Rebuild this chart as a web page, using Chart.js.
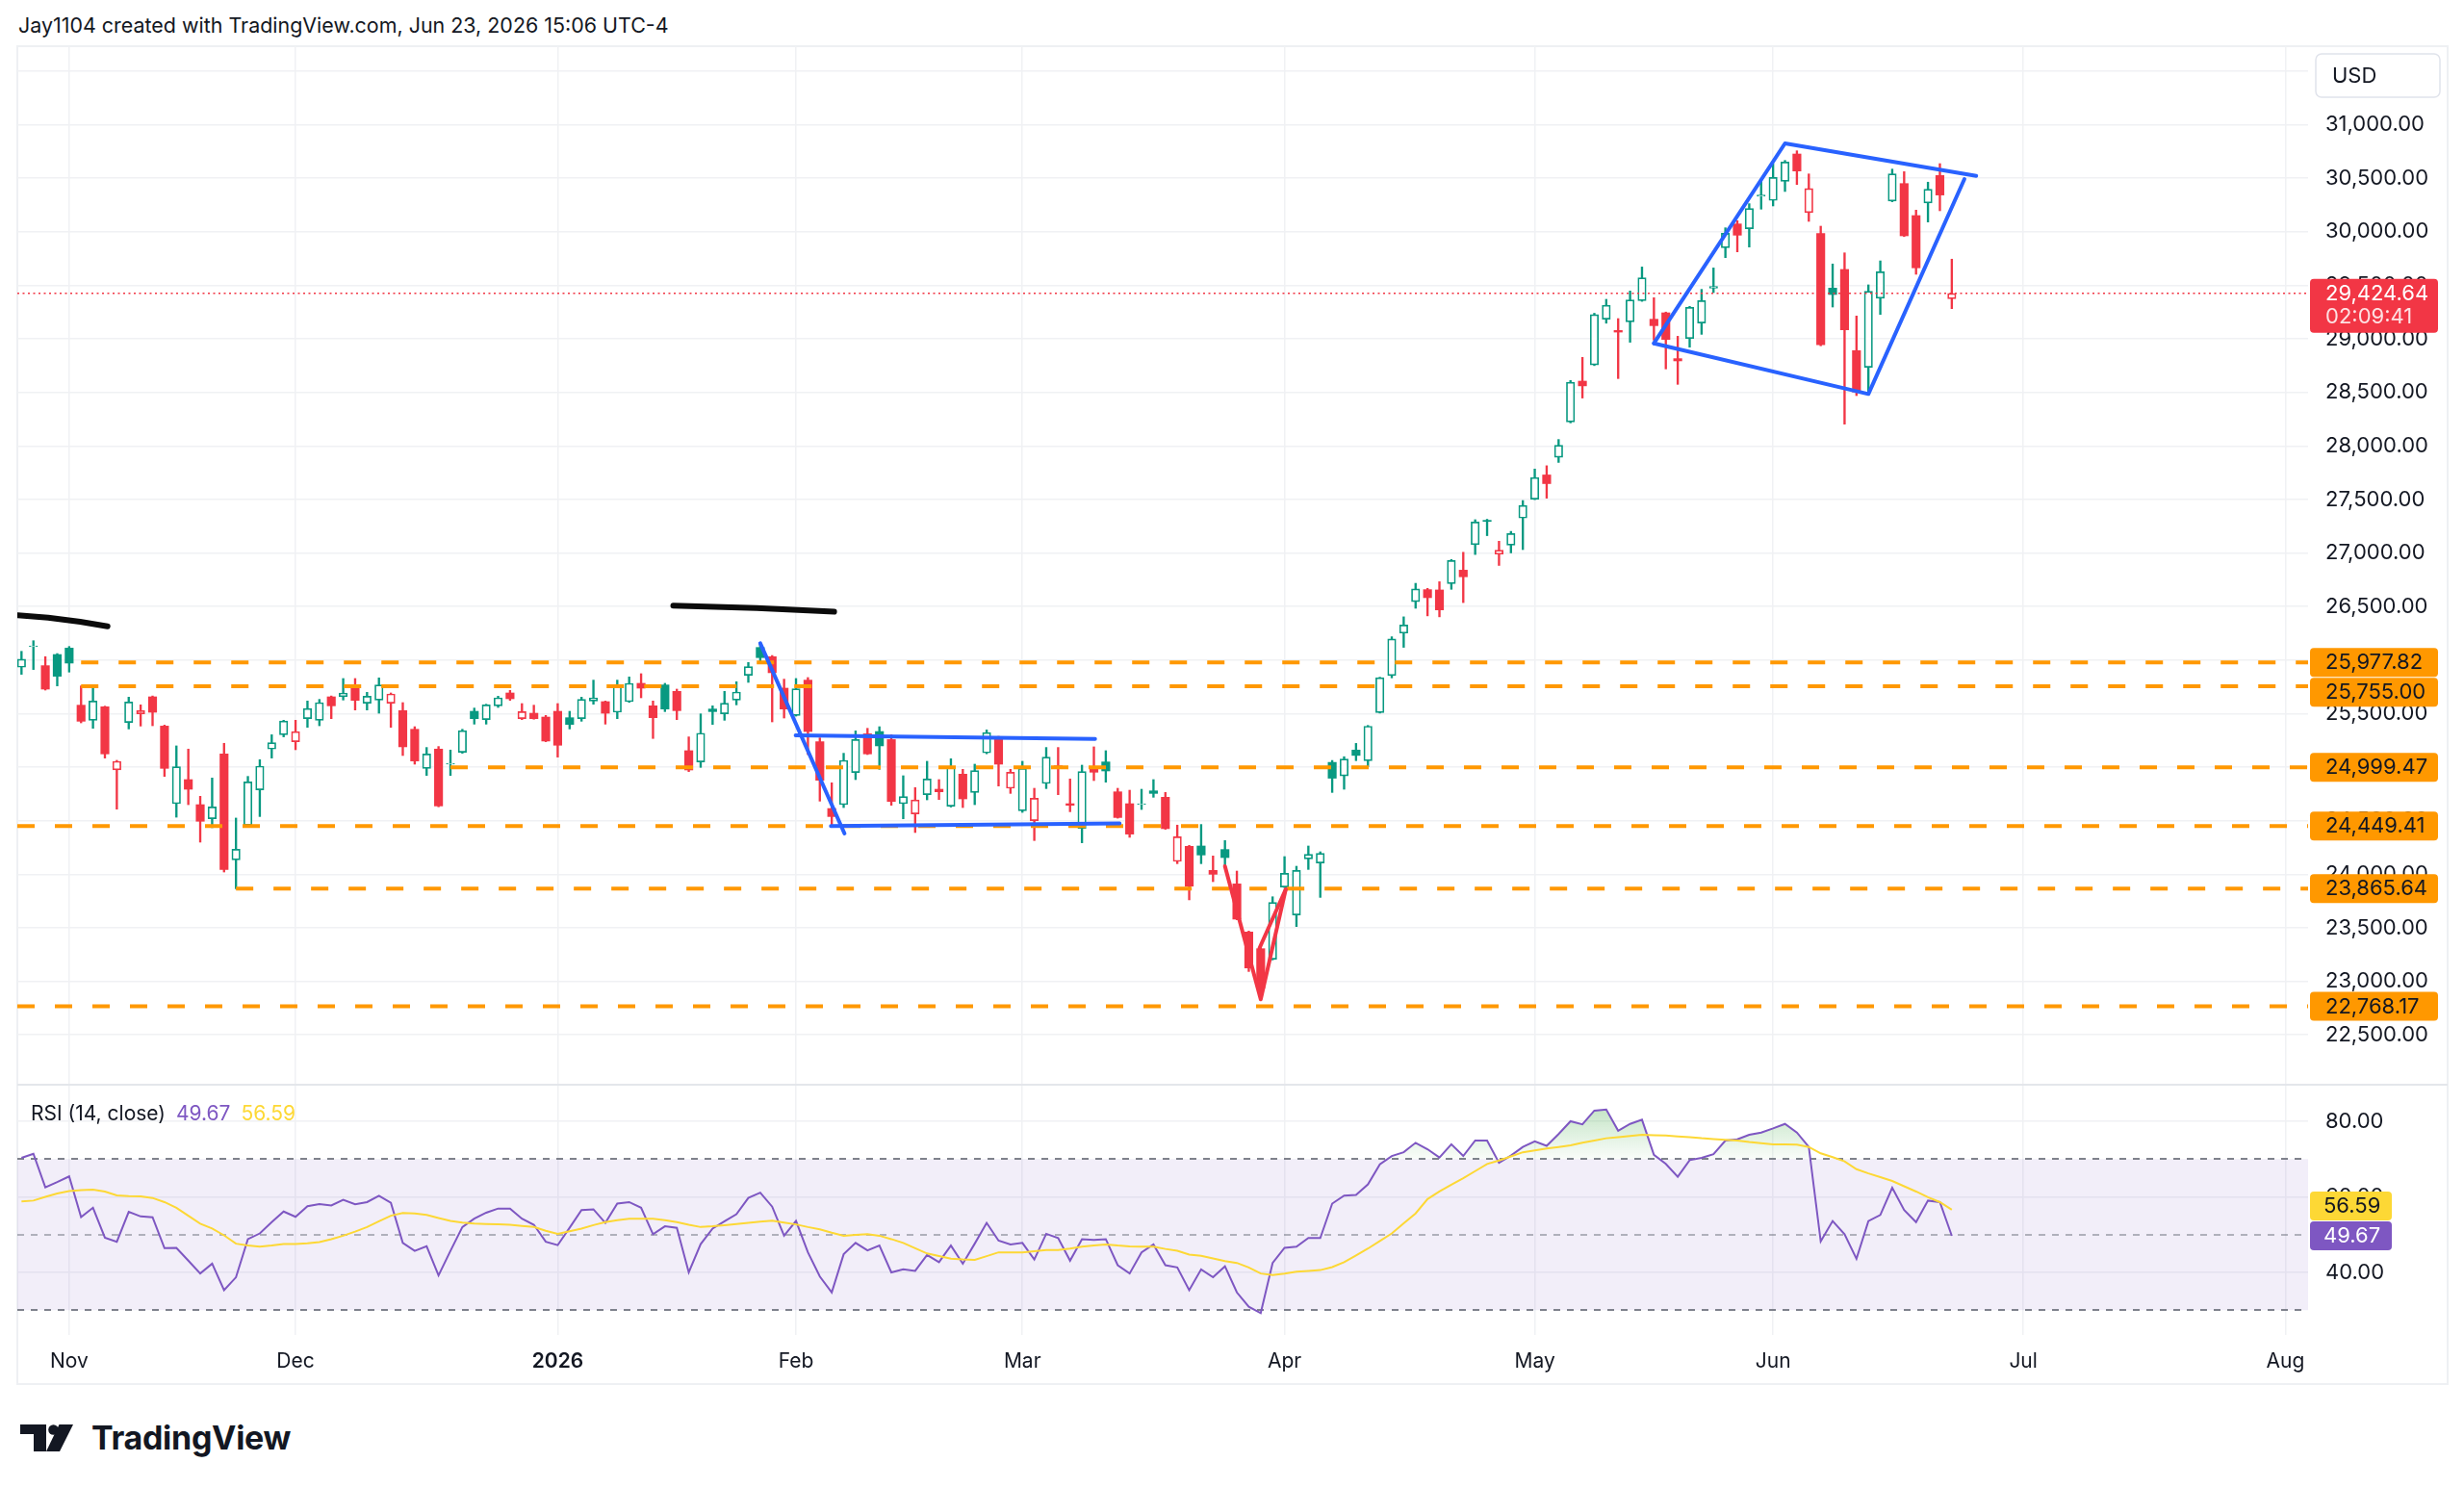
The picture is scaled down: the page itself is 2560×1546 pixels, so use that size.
<!DOCTYPE html>
<html>
<head>
<meta charset="utf-8">
<title>Nasdaq chart</title>
<script src="https://cdn.jsdelivr.net/npm/chart.js@4.4.1/dist/chart.umd.min.js"></script>
<style>
  html, body { margin:0; padding:0; background:#ffffff; }
  body { width:2560px; height:1546px; position:relative; overflow:hidden; font-family: Inter, "Noto Sans", "DejaVu Sans", sans-serif; color:#131722; }
  #title { position:absolute; left:19px; top:16px; font-size:21.45px; line-height:1; white-space:nowrap; }
  #frame { position:absolute; left:17px; top:47px; width:2527px; height:1392px; box-sizing:border-box; border:2px solid #eef0f3; }
  canvas { position:absolute; left:18px; }
  #sep { position:absolute; left:18px; top:1126px; width:2525px; height:2px; background:#e4e6eb; }
  #rsiLegend { position:absolute; left:32px; top:1146px; font-size:21px; line-height:1; white-space:nowrap; }
  #rsiLegend span { margin-right:11px; }
  #logo { position:absolute; left:21px; top:1477px; display:flex; align-items:center; }
  #logo .word { font-size:34px; font-weight:700; margin-left:18px; letter-spacing:-0.3px; line-height:1; color:#131722; }
</style>
</head>
<body>
<div id="title">Jay1104 created with TradingView.com, Jun 23, 2026 15:06 UTC-4</div>
<div id="frame"></div>
<canvas id="price" width="2525" height="1079" style="top:48px;width:2525px;height:1079px;"></canvas>
<canvas id="rsi" width="2525" height="311" style="top:1127px;width:2525px;height:311px;"></canvas>
<div id="sep"></div>
<div id="rsiLegend"><span id="rsiName">RSI (14, close)</span><span id="rsiVal" style="color:#7E57C2"></span><span id="maVal" style="color:#FDD835"></span></div>
<div id="logo">
  <svg width="56" height="28" viewBox="0 0 56 28"><path d="M0 0H27V28H14V10H0Z" fill="#131722"/><circle cx="34.5" cy="5.5" r="5.3" fill="#131722"/><path d="M40.5 0H55L41 28H27Z" fill="#131722"/></svg>
  <span class="word">TradingView</span>
</div>
<script>
// ---------------- DATA ----------------
// bar index 0 = Nov 3 2025 (trading days); first bar is Oct 28 2025
const firstIndex = -4;
const opens = [25933,26124,25948,26052,26112,
 25579,25438,25564,24974,25417,25498,25657,25384,24659,24884,
 24650,24519,25124,24135,24459,24788,25169,25303,25238,25453,
 25438,25657,25657,25753,25597,25627,25597,25528,25354,24989,
 25169,25028,25139,25522,25444,25573,25693,25453,25504,25468,
 25522,25462,25453,25618,25612,25513,25612,25783,25573,25768,
 25708,25154,25049,25543,25498,25627,25858,26118,26032,25738,
 25483,25813,25238,24614,24650,24950,25312,25333,25258,24659,
 24563,24743,24794,24635,24935,24764,25133,25273,24803,24593,
 24501,24848,25013,24659,24429,24998,25049,24770,24659,24650,
 24779,24719,24120,24261,24264,24036,24231,23910,23461,23305,
 23206,23880,23620,24144,24105,25045,24918,25160,25061,25510,
 25856,26252,26546,26658,26655,26714,26840,27079,27305,26989,
 27073,27326,27503,27729,27893,28224,28605,28757,29183,29078,
 29159,29357,29183,29243,28815,29003,29147,29474,29851,30073,
 30028,30331,30292,30471,30726,30178,29983,29474,29648,28890,
 28734,29378,30286,30450,30151,30268,30525,29375];
const highs = [26082,26181,26032,26061,26127,
 25759,25744,25570,25064,25654,25582,25665,25393,25199,25169,
 24728,24899,25223,24525,24914,25070,25303,25438,25438,25618,
 25633,25665,25828,25828,25699,25834,25693,25603,25378,25184,
 25193,25160,25354,25552,25588,25663,25717,25594,25579,25483,
 25594,25522,25654,25813,25618,25813,25843,25873,25618,25783,
 25729,25283,25498,25573,25708,25798,25978,26163,26043,25822,
 25828,25837,25274,24854,25130,25339,25363,25378,25303,24920,
 24809,25055,24884,25079,24980,25028,25348,25288,24980,25055,
 24803,25184,25184,24890,25019,25190,25154,24803,24785,24794,
 24884,24764,24459,24270,24465,24171,24315,24030,23470,23315,
 23790,24165,24075,24264,24210,25063,25098,25222,25390,25840,
 26218,26404,26717,26670,26732,26939,27007,27311,27315,27110,
 27202,27490,27784,27815,28060,28611,28827,29239,29369,29189,
 29447,29671,29384,29250,29024,29303,29462,29662,30037,30103,
 30262,30471,30636,30666,30756,30540,30052,29699,29803,29213,
 29504,29728,30585,30561,30202,30463,30636,29744];
const lows = [25867,25912,25720,25759,25888,
 25414,25363,25085,24608,25357,25384,25387,24914,24533,24650,
 24300,24435,24021,23865,24450,24539,25085,25283,25163,25372,
 25387,25453,25627,25534,25534,25504,25372,25109,25028,24923,
 24630,24923,25130,25402,25402,25558,25624,25444,25448,25238,
 25094,25357,25429,25588,25402,25453,25605,25648,25268,25519,
 25444,24959,24998,25399,25438,25582,25792,25978,25423,25459,
 25477,25118,24683,24450,24623,24884,25118,24980,24644,24518,
 24390,24695,24698,24628,24623,24650,25125,24824,24755,24578,
 24315,24800,24743,24584,24294,24875,24860,24524,24345,24605,
 24719,24420,24099,23761,24099,23931,24081,23575,23092,22877,
 23200,23875,23512,24045,23784,24764,24794,25061,25005,25505,
 25834,26119,26484,26413,26404,26661,26537,26986,27162,26884,
 27001,27032,27498,27512,27846,28215,28447,28750,29146,28629,
 28968,29350,28988,28719,28575,28922,29042,29432,29758,29812,
 29857,30211,30241,30376,30441,30097,28935,29297,28203,28470,
 28509,29228,30280,29955,29603,30091,30196,29282];
const closes = [26008,26133,25729,25849,25972,
 25429,25618,25124,25055,25609,25528,25513,24989,25004,24794,
 24495,24629,24045,24234,24863,25010,25229,25432,25333,25549,
 25603,25573,25693,25624,25663,25768,25684,25190,25058,25124,
 24638,25037,25342,25453,25582,25648,25639,25519,25453,25244,
 25205,25399,25633,25648,25504,25763,25783,25738,25462,25543,
 25528,24974,25318,25519,25597,25702,25939,26023,25882,25543,
 25732,25333,24878,24539,25064,25258,25124,25199,24680,24725,
 24695,24890,24770,25004,24704,24968,25324,25028,24953,24989,
 24710,25094,24989,24644,24959,24953,24965,24530,24375,24659,
 24755,24426,24351,23889,24180,24000,24156,23581,23125,22937,
 23737,24009,24036,24186,24195,24897,25076,25110,25383,25835,
 26197,26327,26664,26583,26469,26930,26778,27290,27295,27026,
 27181,27444,27704,27648,28007,28595,28561,29226,29314,29063,
 29363,29570,29123,28994,28794,29294,29357,29489,29986,29968,
 30217,30343,30507,30651,30567,30403,28944,29414,29084,28503,
 29444,29627,30540,29962,29663,30397,30343,29424.64];

const rsiValues = [70.3,71.4,62.5,63.9,65.4,
 54.6,57.1,49.2,48.1,56.0,54.8,54.6,46.4,46.5,43.1,
 39.7,42.3,35.3,38.7,48.8,50.3,53.3,56.1,54.7,57.5,
 58.1,57.7,59.2,58.0,58.6,60.3,58.4,47.8,45.7,46.9,
 39.2,45.7,52.0,54.2,55.8,56.9,56.9,54.2,52.6,48.1,
 47.2,51.8,56.5,56.7,53.1,58.2,58.6,57.1,50.1,52.2,
 51.8,40.0,47.5,51.6,53.5,55.4,59.7,61.1,57.4,49.7,
 53.6,45.3,38.9,34.7,44.8,47.8,45.8,47.1,40.0,40.8,
 40.4,44.6,42.7,47.1,42.3,47.6,53.1,48.4,47.4,47.8,
 43.4,50.2,49.1,43.1,48.8,48.6,48.8,41.9,39.7,45.3,
 47.4,41.9,41.3,35.3,40.8,38.7,41.6,34.7,30.9,29.2,
 42.5,46.5,46.8,49.1,49.1,58.2,60.3,60.5,63.3,68.6,
 70.8,71.8,74.3,72.6,70.4,73.9,70.8,74.9,74.9,69.0,
 70.9,73.2,74.7,73.5,76.6,80.0,79.2,82.8,83.1,77.5,
 79.3,80.4,71.1,68.7,65.3,69.7,70.3,71.3,74.9,75.2,
 76.4,77.0,78.1,79.3,77.0,73.2,48.2,53.6,50.1,43.6,
 53.6,55.2,62.4,56.5,53.3,59.0,58.6,49.67];
const rsiMA = [58.8,59.0,60.0,60.9,61.5,
 61.8,61.9,61.4,60.4,60.2,60.1,59.7,58.6,57.1,55.0,
 52.9,51.6,49.8,47.6,47.1,46.8,47.1,47.5,47.5,47.7,
 48.0,48.8,49.7,50.8,52.0,53.5,55.0,55.7,55.6,55.2,
 54.4,53.6,53.2,52.9,52.8,52.7,52.6,52.3,52.0,51.0,
 50.2,50.9,51.6,52.5,53.3,53.8,54.2,54.2,54.2,53.8,
 53.3,52.6,52.0,52.2,52.5,52.8,53.1,53.4,53.7,53.2,
 52.7,52.0,51.4,50.5,49.7,49.9,50.1,49.7,48.8,47.8,
 46.4,45.0,44.3,43.6,43.4,43.3,44.3,45.3,45.3,45.3,
 45.6,45.9,45.9,46.3,46.8,47.1,47.4,47.1,46.9,46.8,
 46.8,46.2,45.7,44.7,44.4,43.7,43.0,42.5,41.3,39.7,
 39.3,39.7,40.2,40.4,40.6,41.4,42.7,44.5,46.3,48.3,
 50.3,53.0,55.6,59.4,61.4,63.2,64.9,66.8,68.7,69.6,
 70.7,71.8,72.3,72.8,73.2,73.6,74.3,74.9,75.5,75.8,
 76.1,76.4,76.3,76.2,76.0,75.8,75.5,75.3,75.1,74.9,
 74.5,74.2,73.9,73.9,73.8,73.2,71.5,70.5,69.4,67.3,
 66.2,65.2,64.2,62.8,61.4,59.9,58.6,56.59];

const monthIdx = [0, 19, 41, 61, 80, 102, 123, 143, 164, 186];
const monthLabels = ['Nov', 'Dec', '2026', 'Feb', 'Mar', 'Apr', 'May', 'Jun', 'Jul', 'Aug'];
const priceTicks = [22500,23000,23500,24000,24500,25000,25500,26000,26500,27000,27500,28000,28500,29000,29500,30000,30500,31000,31500];
const rsiTicks = [40, 60, 80];
const rsiBands = [70, 50, 30];

const levelValues = [25977.82, 25755.00, 24999.47, 24449.41, 23865.64, 22768.17];
const levelStarts = [1, 1, 32, -4.35, 14, -4.35];
const lastPrice = 29424.64;
const countdown = '02:09:41';
const currency = 'USD';

// hand-drawn annotations: [bar index, price]
const blackStroke1 = [[-4.3, 26418], [-1.76, 26397], [0.93, 26358], [3.22, 26316]];
const blackStroke2 = [[50.7, 26508], [57.7, 26487], [64.2, 26452]];
const blueDiagonal = [[58.0, 26157], [65.07, 24381]];
const blueRangeTop = [[60.97, 25297], [86.1, 25264]];
const blueRangeBottom = [[63.93, 24450], [88.16, 24474]];
const redV1 = [[97.0, 24075], [100.0, 22832], [102.1, 23859]];
const redV2 = [[99.9, 23311], [102.1, 23859]];
const rhombusUpper = [[133.0, 28958], [144.0, 30825], [160.05, 30522]];
const rhombusLower = [[133.0, 28958], [151.0, 28485], [159.06, 30492]];

// ---------------- STYLE / LAYOUT ----------------
const UP = '#089981', DOWN = '#F23645', LEVEL = '#FF9800', BLUE = '#2962FF', INK = '#131722';
const GRID = '#f0f1f4';
const X_MIN = -4.35, X_MAX = 187.9;
const P_MIN = 22034.8, P_MAX = 31732.7;
const R_MIN = 23.43, R_MAX = 89.67;
const AXIS_W = 145;
const FONT = 'Inter, "Noto Sans", sans-serif';
Chart.defaults.font.family = FONT;

const fmt2 = v => Number(v).toLocaleString('en-US', {minimumFractionDigits: 2, maximumFractionDigits: 2});
const idx = opens.map((_, k) => firstIndex + k);
const colors = closes.map((c, k) => (c >= (k > 0 ? closes[k - 1] : opens[k])) ? UP : DOWN);
const hollow = closes.map((c, k) => c > opens[k]);
const pts = arr => arr.map(([x, y]) => ({x, y}));

function rrect(ctx, x, y, w, h, r) {
  ctx.beginPath();
  ctx.moveTo(x + r, y);
  ctx.arcTo(x + w, y, x + w, y + h, r);
  ctx.arcTo(x + w, y + h, x, y + h, r);
  ctx.arcTo(x, y + h, x, y, r);
  ctx.arcTo(x, y, x + w, y, r);
  ctx.closePath();
}

function strokeDS(data, color, width, dash) {
  return { type: 'line', data: pts(data), borderColor: color, borderWidth: width, borderDash: dash || [],
    pointRadius: 0, pointHoverRadius: 0, fill: false, tension: 0, order: 0,
    borderCapStyle: 'round', borderJoinStyle: 'round' };
}

const levelDatasets = levelValues.map((v, k) => ({
  type: 'line', data: [{x: levelStarts[k], y: v}, {x: X_MAX, y: v}],
  borderColor: LEVEL, borderWidth: 4, borderDash: [18, 21], pointRadius: 0, fill: false, order: 0
}));

const priceLabelPlugin = {
  id: 'priceLabels',
  afterDraw(chart) {
    const ctx = chart.ctx, ys = chart.scales.y, L = ys.left;
    ctx.save();
    ctx.font = '22px ' + FONT;
    ctx.textBaseline = 'middle';
    ctx.textAlign = 'left';
    rrect(ctx, L + 8, 8, 129, 45, 6);
    ctx.fillStyle = '#ffffff'; ctx.fill();
    ctx.lineWidth = 1.5; ctx.strokeStyle = '#e0e3eb'; ctx.stroke();
    ctx.fillStyle = INK; ctx.fillText(currency, L + 25, 31);
    const tags = levelValues.map(v => ({v, y: ys.getPixelForValue(v)})).sort((a, b) => a.y - b.y);
    let prevBottom = -1e9;
    tags.forEach(t => {
      let top = t.y - 15;
      if (top < prevBottom + 1) top = prevBottom + 1;
      rrect(ctx, L + 2, top, 133, 30, 4);
      ctx.fillStyle = LEVEL; ctx.fill();
      ctx.fillStyle = INK; ctx.fillText(fmt2(t.v), L + 18, top + 15.5);
      prevBottom = top + 30;
    });
    const yp = ys.getPixelForValue(lastPrice);
    rrect(ctx, L + 2, yp - 15, 133, 56, 4);
    ctx.fillStyle = DOWN; ctx.fill();
    ctx.fillStyle = '#ffffff'; ctx.fillText(fmt2(lastPrice), L + 18, yp + 0.5);
    ctx.fillStyle = 'rgba(255,255,255,0.85)'; ctx.fillText(countdown, L + 18, yp + 25);
    ctx.restore();
  }
};

new Chart(document.getElementById('price'), {
  type: 'bar',
  data: { datasets: [
    strokeDS(blackStroke1, '#0b0b0b', 6),
    strokeDS(blackStroke2, '#0b0b0b', 6),
    strokeDS(blueDiagonal, BLUE, 4),
    strokeDS(blueRangeTop, BLUE, 4),
    strokeDS(blueRangeBottom, BLUE, 4),
    strokeDS(redV1, DOWN, 4),
    strokeDS(redV2, DOWN, 4),
    strokeDS(rhombusUpper, BLUE, 4),
    strokeDS(rhombusLower, BLUE, 4),
    ...levelDatasets,
    { type: 'line', data: [{x: X_MIN, y: lastPrice}, {x: X_MAX, y: lastPrice}], borderColor: DOWN, borderWidth: 1.6,
      borderDash: [2, 3.5], pointRadius: 0, fill: false, order: 0 },
    { type: 'bar', label: 'body', data: idx.map((x, k) => ({x, y: [opens[k], closes[k]]})), grouped: false,
      barThickness: 8.5, borderSkipped: false,
      backgroundColor: colors.map((c, k) => hollow[k] ? '#ffffff' : c),
      borderColor: colors, borderWidth: hollow.map(h => h ? 1.7 : 0), order: 1 },
    { type: 'bar', label: 'wick', data: idx.map((x, k) => ({x, y: [lows[k], highs[k]]})), grouped: false,
      barThickness: 1.7, backgroundColor: colors, borderWidth: 0, order: 2 }
  ]},
  options: {
    responsive: false, maintainAspectRatio: false, animation: false, events: [],
    layout: { padding: 0 },
    plugins: { legend: { display: false }, tooltip: { enabled: false } },
    scales: {
      x: { type: 'linear', min: X_MIN, max: X_MAX, offset: false,
        grid: { color: GRID, lineWidth: 1.5, drawTicks: false, offset: false },
        border: { display: false },
        ticks: { display: false },
        afterBuildTicks: s => { s.ticks = monthIdx.map(v => ({value: v})); },
        afterFit: s => { s.height = 0; s.paddingLeft = 0; s.paddingRight = 0; } },
      y: { type: 'linear', position: 'right', min: P_MIN, max: P_MAX,
        grid: { color: GRID, lineWidth: 1.5, drawTicks: false },
        border: { display: false },
        ticks: { color: INK, font: { size: 22 }, padding: 18, autoSkip: false, callback: v => fmt2(v) },
        afterBuildTicks: s => { s.ticks = priceTicks.map(v => ({value: v})); },
        afterFit: s => { s.width = AXIS_W; s.paddingTop = 0; s.paddingBottom = 0; } }
    }
  },
  plugins: [priceLabelPlugin]
});

// ---------------- RSI pane ----------------
const rsiBandPlugin = {
  id: 'rsiBand',
  beforeDatasetsDraw(chart) {
    const {ctx, chartArea: a} = chart, y = chart.scales.y;
    const yTop = y.getPixelForValue(rsiBands[0]), yBot = y.getPixelForValue(rsiBands[2]);
    ctx.save();
    ctx.fillStyle = 'rgba(126,87,194,0.1)';
    ctx.fillRect(a.left, yTop, a.right - a.left, yBot - yTop);
    ctx.lineWidth = 2;
    ctx.setLineDash([7, 7]);
    rsiBands.forEach((v, k) => {
      ctx.strokeStyle = k === 1 ? 'rgba(120,123,134,0.55)' : 'rgba(120,123,134,0.95)';
      const yy = Math.round(y.getPixelForValue(v));
      ctx.beginPath(); ctx.moveTo(a.left, yy); ctx.lineTo(a.right, yy); ctx.stroke();
    });
    ctx.restore();
  }
};

const rsiLabelPlugin = {
  id: 'rsiLabels',
  afterDraw(chart) {
    const ctx = chart.ctx, ys = chart.scales.y, L = ys.left;
    const rv = rsiValues[rsiValues.length - 1], mv = rsiMA[rsiMA.length - 1];
    const topR = ys.getPixelForValue(rv) - 15;
    let topM = ys.getPixelForValue(mv) - 15;
    if (topM + 30 > topR - 1) topM = topR - 31;
    ctx.save();
    ctx.font = '22px ' + FONT;
    ctx.textBaseline = 'middle';
    ctx.textAlign = 'left';
    rrect(ctx, L + 2, topM, 85, 30, 4); ctx.fillStyle = '#FDD835'; ctx.fill();
    ctx.fillStyle = INK; ctx.fillText(fmt2(mv), L + 16, topM + 15.5);
    rrect(ctx, L + 2, topR, 85, 30, 4); ctx.fillStyle = '#7E57C2'; ctx.fill();
    ctx.fillStyle = '#ffffff'; ctx.fillText(fmt2(rv), L + 16, topR + 15.5);
    ctx.restore();
  }
};

function obGradient(c) {
  const ch = c.chart;
  if (!ch.chartArea || !ch.scales.y) return 'rgba(76,175,80,0.2)';
  const ys = ch.scales.y;
  const g = ch.ctx.createLinearGradient(0, ys.getPixelForValue(86), 0, ys.getPixelForValue(rsiBands[0]));
  g.addColorStop(0, 'rgba(76,175,80,0.38)');
  g.addColorStop(1, 'rgba(76,175,80,0.03)');
  return g;
}

new Chart(document.getElementById('rsi'), {
  type: 'line',
  data: { datasets: [
    { data: idx.map((x, k) => ({x, y: rsiMA[k]})), borderColor: '#FDD835', borderWidth: 2, pointRadius: 0,
      fill: false, tension: 0, order: 0 },
    { data: idx.map((x, k) => ({x, y: rsiValues[k]})), borderColor: '#7E57C2', borderWidth: 2, pointRadius: 0,
      tension: 0, fill: { target: { value: rsiBands[0] }, below: 'rgba(0,0,0,0)' }, backgroundColor: obGradient, order: 1 }
  ]},
  options: {
    responsive: false, maintainAspectRatio: false, animation: false, events: [],
    layout: { padding: 0 },
    plugins: { legend: { display: false }, tooltip: { enabled: false } },
    scales: {
      x: { type: 'linear', min: X_MIN, max: X_MAX, offset: false,
        grid: { color: GRID, lineWidth: 1.5, drawTicks: false, offset: false },
        border: { display: false },
        ticks: { color: INK, padding: 15, maxRotation: 0, autoSkip: false,
          font: c => ({ size: 21, weight: (c.tick && /^\d{4}$/.test(monthLabels[monthIdx.indexOf(c.tick.value)] || '')) ? '600' : '400' }),
          callback: v => monthLabels[monthIdx.indexOf(v)] },
        afterBuildTicks: s => { s.ticks = monthIdx.map(v => ({value: v})); },
        afterFit: s => { s.height = 51; s.paddingLeft = 0; s.paddingRight = 0; } },
      y: { type: 'linear', position: 'right', min: R_MIN, max: R_MAX,
        grid: { color: GRID, lineWidth: 1.5, drawTicks: false },
        border: { display: false },
        ticks: { color: INK, font: { size: 22 }, padding: 18, autoSkip: false, callback: v => fmt2(v) },
        afterBuildTicks: s => { s.ticks = rsiTicks.map(v => ({value: v})); },
        afterFit: s => { s.width = AXIS_W; s.paddingTop = 0; s.paddingBottom = 0; } }
    }
  },
  plugins: [rsiBandPlugin, rsiLabelPlugin]
});

document.getElementById('rsiVal').textContent = fmt2(rsiValues[rsiValues.length - 1]);
document.getElementById('maVal').textContent = fmt2(rsiMA[rsiMA.length - 1]);
</script>
</body>
</html>
